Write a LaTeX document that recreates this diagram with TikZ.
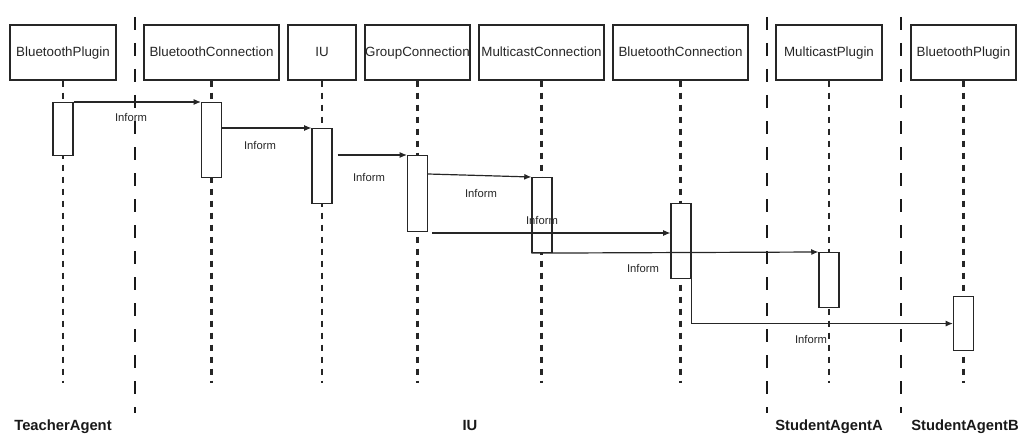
\documentclass[tikz,border=0pt]{standalone}
\usepackage{fontspec}
\setmainfont{Liberation Sans}
\usepackage{xcolor}
\usepackage{tikz}
\usetikzlibrary{arrows.meta,positioning,calc}

\begin{document}
\begin{tikzpicture}[
  x=0.25mm, y=-0.25mm,
  every node/.style={text=black!85},
  head/.style={rectangle, draw=black!85, line width=0.8pt, align=center,
               minimum height=13.75mm, inner sep=0pt,
               text height=7pt, text depth=2pt,
               font=\fontsize{9.5}{11}\selectfont},
  lifeline/.style={draw=black!85, line width=1.5pt,
                   dash pattern=on 1.5mm off 1.5mm},
  divider/.style={draw=black!90, line width=2.1pt,
                  dash pattern=on 3.25mm off 3.25mm},
  bar/.style={rectangle, draw=black!85, fill=white, line width=0.8pt,
              anchor=north, minimum width=5mm, inner sep=0pt},
  msg/.style={font=\fontsize{8}{9}\selectfont, inner sep=0pt},
  agent/.style={font=\fontsize{10.5}{12}\selectfont\bfseries,
                text=black!90, inner sep=0pt,
                text height=8pt, text depth=0pt},
  arr/.style={-{Latex[length=1.8mm, width=1.5mm]}, line width=0.85pt,
              draw=black!85},
]
\useasboundingbox (0,0) rectangle (1020,434);

% lifeline heads
\node[head, minimum width=26.5mm] (h1) at (63,52.5)    {BluetoothPlugin};
\node[head, minimum width=33.75mm] (h2) at (211.5,52.5) {BluetoothConnection};
\node[head, minimum width=17mm]   (h3) at (322,52.5)   {IU};
\node[head, minimum width=26.25mm] (h4) at (417.5,52.5) {GroupConnection};
\node[head, minimum width=31.25mm] (h5) at (541.5,52.5) {MulticastConnection};
\node[head, minimum width=33.75mm] (h6) at (680.5,52.5) {BluetoothConnection};
\node[head, minimum width=26.5mm] (h7) at (829,52.5)   {MulticastPlugin};
\node[head, minimum width=26.25mm] (h8) at (963.5,52.5) {BluetoothPlugin};

% agent borders
\draw[divider] (135,17) -- (135,413);
\draw[divider] (767,17) -- (767,413);
\draw[divider] (901,17) -- (901,413);

% lifelines
\foreach \n in {1,...,8}
  \draw[lifeline] (h\n.south) -- ++(0,302);

% activation bars
\node[bar, minimum height=13.25mm] (a1) at (63,102)    {};
\node[bar, minimum height=18.75mm] (a2) at (211.5,102) {};
\node[bar, minimum height=18.75mm] (a3) at (322,128)   {};
\node[bar, minimum height=19mm]    (a4) at (417.5,155) {};
\node[bar, minimum height=18.75mm] (a5) at (542,177)   {};
\node[bar, minimum height=18.75mm] (a6) at (681,203)   {};
\node[bar, minimum height=13.75mm] (a7) at (829,252)   {};
\node[bar, minimum height=13.5mm]  (a8) at (963.5,296) {};

% messages
\coordinate (m4) at ($(a4.north east)+(0,19)$);
\coordinate (m5) at ($(a6.north west)+(0,30)$);

\draw[arr] (a1.north east) -- (a2.north west);
\draw[arr] (a2.east |- a3.north) -- (a3.north west);
\draw[arr, shorten <=1.25mm] (a3.east |- a4.north) -- (a4.north west);
\draw[arr] (m4) -- (a5.north west);
\draw[arr, shorten <=1mm] (a4.south east |- m5) -- (m5);
\draw[arr] (a5.south west) -- (a7.north west);
\draw[arr] (a6.south east) |- (a8.west);

% message labels
\node[msg] (l1) at (131,117) {Inform};
\node[msg] (l2) at (260,145) {Inform};
\node[msg] (l3) at (369,177) {Inform};
\node[msg] (l4) at (481,193) {Inform};
\node[msg] (l5) at (542,220) {Inform};
\node[msg] (l6) at (643,268) {Inform};
\node[msg] (l7) at (811,339) {Inform};

% agents
\node[agent] (teacher) at (63,425)  {TeacherAgent};
\node[agent] (iu)      at (470,425) {IU};
\node[agent] (studa)   at (829,425) {StudentAgentA};
\node[agent] (studb)   at (965,425) {StudentAgentB};
\end{tikzpicture}
\end{document}
